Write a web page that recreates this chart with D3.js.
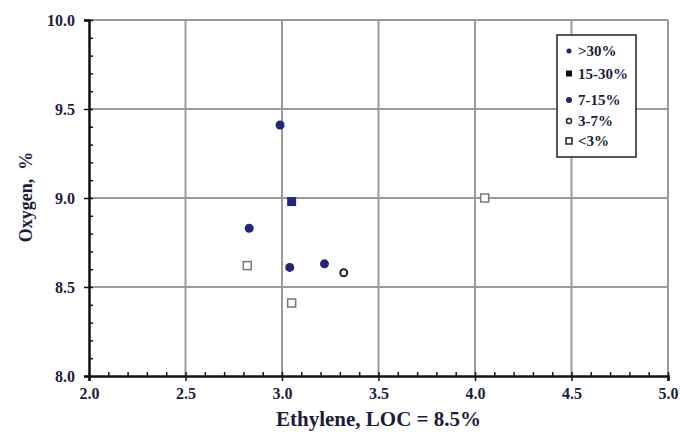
<!DOCTYPE html>
<html>
<head>
<meta charset="utf-8">
<script src="https://cdn.jsdelivr.net/npm/d3@7"></script>
<style>
  body { margin: 0; background: #fff; }
  text { font-family: "Liberation Serif", "Times New Roman", serif; font-weight: bold; }
</style>
</head>
<body>
<div class="chart"></div>
<script>
// data
var gt30 = [{x: 2.99, y: 9.41}];
var from15to30 = [{x: 3.05, y: 8.98}];
var from7to15 = [{x: 2.83, y: 8.83}, {x: 3.04, y: 8.61}, {x: 3.22, y: 8.63}];
var from3to7 = [{x: 3.32, y: 8.58}];
var lt3 = [{x: 2.82, y: 8.62}, {x: 3.05, y: 8.41}, {x: 4.05, y: 9.00}];
var legendLabels = [">30%", "15-30%", "7-15%", "3-7%", "<3%"];
var xTicks = [2.0, 2.5, 3.0, 3.5, 4.0, 4.5, 5.0];
var yTicks = [8.0, 8.5, 9.0, 9.5, 10.0];

var margin = {top: 20, right: 12, bottom: 56, left: 89},
    width = 680 - margin.left - margin.right,
    height = 432 - margin.top - margin.bottom;

var svg = d3.select(".chart").append("svg")
    .attr("width", 680)
    .attr("height", 432)
  .append("g")
    .attr("transform", "translate(" + margin.left + "," + margin.top + ")");

var x = d3.scaleLinear().domain([2, 5]).range([0, width]);
var y = d3.scaleLinear().domain([8, 10]).range([height, 0]);

var navy = "#24247a";
var labelColor = "#1c1c3c";

// grid
svg.selectAll(".vgrid")
    .data(xTicks.slice(1))
    .enter().append("line")
    .attr("x1", function(d){ return x(d); })
    .attr("x2", function(d){ return x(d); })
    .attr("y1", 0).attr("y2", height)
    .attr("stroke", "#9a9a9a").attr("stroke-width", 2);

svg.selectAll(".hgrid")
    .data(yTicks.slice(1))
    .enter().append("line")
    .attr("y1", function(d){ return y(d); })
    .attr("y2", function(d){ return y(d); })
    .attr("x1", 0).attr("x2", width)
    .attr("stroke", "#9a9a9a").attr("stroke-width", 2);

// minor ticks (inside)
var xMinor = d3.range(20, 51).map(function(d){ return d / 10; });
var yMinor = d3.range(80, 101).map(function(d){ return d / 10; });

svg.append("g")
    .attr("transform", "translate(0," + height + ")")
    .call(d3.axisTop(x).tickValues(xMinor).tickSize(4).tickFormat(""))
    .call(function(g){ g.select(".domain").remove(); })
    .selectAll("line").attr("stroke", "#111").attr("stroke-width", 1.5);

svg.append("g")
    .call(d3.axisRight(y).tickValues(yMinor).tickSize(4).tickFormat(""))
    .call(function(g){ g.select(".domain").remove(); })
    .selectAll("line").attr("stroke", "#111").attr("stroke-width", 1.5);

// main axes
var xAxis = svg.append("g")
    .attr("transform", "translate(0," + height + ")")
    .call(d3.axisBottom(x).tickValues(xTicks).tickSize(5).tickPadding(7).tickFormat(d3.format(".1f")));
xAxis.select(".domain").attr("stroke", "#111").attr("stroke-width", 2.5);
xAxis.selectAll("line").attr("stroke", "#111").attr("stroke-width", 1.5);
xAxis.selectAll("text").attr("font-size", 16).attr("fill", labelColor)
    .style("font-family", "Liberation Serif, serif");

var yAxis = svg.append("g")
    .call(d3.axisLeft(y).tickValues(yTicks).tickSize(5).tickPadding(9).tickFormat(d3.format(".1f")));
yAxis.select(".domain").attr("stroke", "#111").attr("stroke-width", 2.5);
yAxis.selectAll("line").attr("stroke", "#111").attr("stroke-width", 1.5);
yAxis.selectAll("text").attr("font-size", 16).attr("fill", labelColor)
    .style("font-family", "Liberation Serif, serif");

// points
svg.selectAll(".gt30")
    .data(gt30)
    .enter().append("circle")
    .attr("cx", function(d){ return x(d.x); })
    .attr("cy", function(d){ return y(d.y); })
    .attr("r", 4.5)
    .attr("fill", navy);

svg.selectAll(".m15")
    .data(from15to30)
    .enter().append("rect")
    .attr("x", function(d){ return x(d.x) - 4.5; })
    .attr("y", function(d){ return y(d.y) - 4.5; })
    .attr("width", 9).attr("height", 9)
    .attr("fill", navy);

svg.selectAll(".m7")
    .data(from7to15)
    .enter().append("circle")
    .attr("cx", function(d){ return x(d.x); })
    .attr("cy", function(d){ return y(d.y); })
    .attr("r", 4.5)
    .attr("fill", navy);

svg.selectAll(".m3")
    .data(from3to7)
    .enter().append("circle")
    .attr("cx", function(d){ return x(d.x); })
    .attr("cy", function(d){ return y(d.y); })
    .attr("r", 3.5)
    .attr("fill", "#fff")
    .attr("stroke", "#222").attr("stroke-width", 2);

svg.selectAll(".lt3")
    .data(lt3)
    .enter().append("rect")
    .attr("x", function(d){ return x(d.x) - 4; })
    .attr("y", function(d){ return y(d.y) - 4; })
    .attr("width", 8).attr("height", 8)
    .attr("fill", "#fff")
    .attr("stroke", "#777").attr("stroke-width", 1.5);

// legend
var legend = svg.append("g")
    .attr("transform", "translate(" + (557 - margin.left) + "," + (35 - margin.top) + ")");

legend.append("rect")
    .attr("width", 79).attr("height", 122)
    .attr("fill", "#fff").attr("stroke", "#222").attr("stroke-width", 1.5);

var legendY = [16, 38.5, 65, 86, 106];

legendLabels.forEach(function(label, i) {
  var cy = legendY[i];
  if (i == 0 || i == 2) {
    legend.append("circle").attr("cx", 12).attr("cy", cy).attr("r", i == 0 ? 2.5 : 3)
        .attr("fill", navy);
  } else if (i == 1) {
    legend.append("rect").attr("x", 9).attr("y", cy - 3).attr("width", 6).attr("height", 6)
        .attr("fill", "#111");
  } else if (i == 3) {
    legend.append("circle").attr("cx", 12).attr("cy", cy).attr("r", 2.5)
        .attr("fill", "#fff").attr("stroke", "#222").attr("stroke-width", 1.5);
  } else {
    legend.append("rect").attr("x", 9).attr("y", cy - 3).attr("width", 6).attr("height", 6)
        .attr("fill", "#fff").attr("stroke", "#222").attr("stroke-width", 1.5);
  }
  legend.append("text")
      .attr("x", 21).attr("y", cy + 5)
      .attr("font-size", 15)
      .attr("fill", labelColor)
      .text(label);
});

// axis titles
svg.append("text")
    .attr("text-anchor", "middle")
    .attr("transform", "translate(" + (width / 2) + "," + (height + 50) + ")")
    .attr("font-size", 21)
    .attr("fill", labelColor)
    .text("Ethylene, LOC = 8.5%");

svg.append("text")
    .attr("text-anchor", "middle")
    .attr("transform", "translate(" + (-57) + "," + (height / 2 - 1) + ")rotate(-90)")
    .attr("font-size", 18)
    .attr("fill", labelColor)
    .attr("xml:space", "preserve")
    .style("white-space", "pre")
    .text("Oxygen,  %");
</script>
</body>
</html>
